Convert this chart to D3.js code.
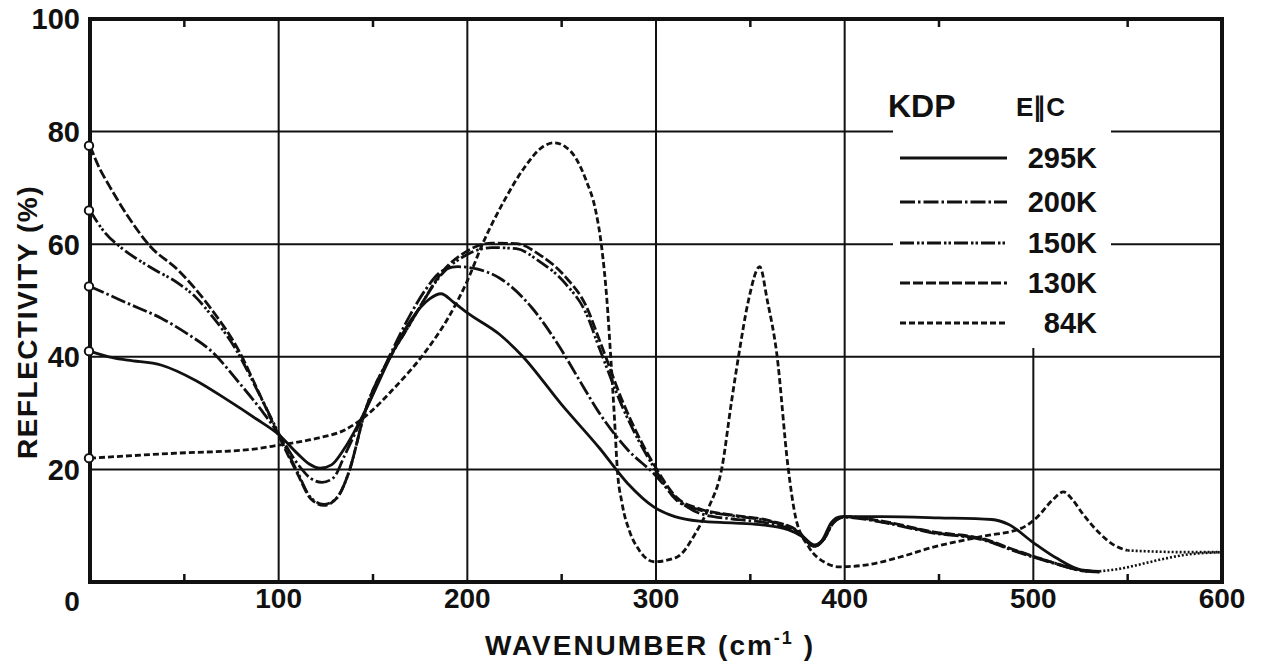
<!DOCTYPE html>
<html>
<head>
<meta charset="utf-8">
<script src="https://cdn.jsdelivr.net/npm/d3@7"></script>
<style>
  html, body { margin: 0; padding: 0; background: #fff; }
  svg { display: block; }
  text { font-family: "Liberation Sans", Arial, sans-serif; font-weight: bold; fill: #111; }
</style>
</head>
<body>
<svg id="chart" width="1265" height="665"></svg>
<script>
// ---------------- data (wavenumber cm^-1, reflectivity %) ----------------
const s295K = [[0,41],[10,40],[20,39.4],[38,38.5],[56,35.8],[73,32.3],[88,29],[100,26.2],[110,22.8],[116,21],[122,20.2],[128,20.8],[135,23.8],[146,30.5],[160,40.5],[170,46.5],[180,50.3],[186,51.2],[193,49.6],[200,47.8],[217,44],[229,40.2],[250,31.5],[270,23.8],[285,17.5],[299,13.3],[310,11.6],[323,10.8],[340,10.5],[355,10.2],[370,9.3],[378,8],[384,6.6],[388,7.4],[393,10.6],[398,11.6],[420,11.6],[450,11.4],[478,11.1],[487,10.2],[500,7],[512,4.3],[526,2.1],[535,1.9]];
const s200K = [[0,52.5],[10,51],[20,49.5],[38,46.8],[52,44],[64,41.1],[80,35],[92,30],[100,26.3],[110,21],[117,18.4],[123,17.7],[129,18.5],[135,22.5],[146,30.5],[160,41],[169,47],[178,52],[186,55.1],[195,56],[205,55.6],[217,54],[234,48.8],[249,41.7],[260,35.5],[270,30],[285,23.5],[299,19.2],[311,14.8],[323,12.2],[340,11.2],[360,10.4],[375,8.8],[384,6.4],[389,7.6],[394,10.5],[400,11.5],[420,10.6],[447,8.7],[473,7.5],[491,5.4],[509,3.5],[526,2],[535,1.8]];
const s150K = [[0,66],[8,62],[16.5,59.4],[32,55.9],[47,53],[56,50.6],[64,47.5],[77,41.5],[88,34.5],[100,26.4],[110,19.5],[117,15],[124,13.8],[131,15],[137,19.3],[146,30.5],[160,40.5],[169,45.5],[176,49.5],[186,54.5],[199,58],[213,59.4],[226,59.2],[238,57],[252,53],[263,47.7],[270,41.5],[283,30.5],[299,20.3],[311,14.5],[323,12.8],[340,11.8],[360,10.8],[375,9],[384,6.3],[389,7.6],[394,10.6],[400,11.6],[420,10.7],[447,8.8],[473,7.6],[491,5.5],[509,3.6],[526,2],[535,1.8]];
const s130K = [[0,77.5],[5,73.5],[10,70.5],[20,65],[32,59.6],[47,55.3],[64,48.6],[79,41],[89,34],[100,26],[110,19.2],[117,14.8],[124,13.6],[131,15],[137,19.3],[146,30.5],[160,40.5],[169,45.5],[176,49.5],[186,54.8],[199,58.6],[213,60.2],[226,60.1],[238,58.2],[252,54.2],[263,49],[270,43],[283,31.5],[299,20.8],[311,15],[323,13],[340,11.9],[360,10.9],[375,9.1],[384,6.3],[389,7.6],[394,10.6],[400,11.6],[420,10.8],[447,8.9],[473,7.7],[491,5.6],[509,3.6],[526,2.1],[535,1.8]];
const s84K = [[0,22],[47,22.9],[84,23.5],[100,24.3],[120,25.5],[135,27],[148,30],[160,34],[178,41],[190,47],[200,53.5],[208,60],[220,68],[230,73.5],[240,77.3],[246,78],[252,77.3],[258,75],[263,71.3],[268,66],[271,60],[274,50],[276,40],[278,29],[279.5,20],[282,14],[286,9],[291,5.7],[299,3.6],[311,4.4],[321,8.7],[328,13.3],[335,20.4],[340,32],[344,40.6],[349,50],[355,56],[359,50],[364,40.6],[370,20.4],[374,11.5],[381,6.2],[390,3.4],[397,2.7],[411,3],[429,4.4],[447,6.2],[473,8.1],[494,9.6],[502,11.5],[510,14.5],[516,16],[521,14.5],[526,12.2],[535,8.7],[543,6.5],[550,5.6]];
const tailHigh = [[535,1.9],[545,2.3],[555,3],[565,3.8],[580,4.8],[600,5.3]];
const tail84K = [[550,5.6],[565,5.4],[580,5.3],[600,5.3]];

const seriesNames = ["295K", "200K", "150K", "130K", "84K"];
const seriesData = [s295K, s200K, s150K, s130K, s84K];
const seriesDash = [null, "15,3,2.5,3", "14,3,2.5,2,2.5,3", "10,3", "6,3"];

const xTickValues = [100, 200, 300, 400, 500, 600];
const yTickValues = [20, 40, 60, 80, 100];
const xGridValues = [100, 200, 300, 400, 500];
const yGridValues = [20, 40, 60, 80];
const xMinorTicks = [50, 150, 250, 350, 450, 550];

// ---------------- layout ----------------
const svg = d3.select("#chart");
const x = d3.scaleLinear().domain([0, 600]).range([90, 1222]);
const y = d3.scaleLinear().domain([0, 100]).range([582, 19]);

svg.append("rect").attr("width", 1265).attr("height", 665).attr("fill", "#fff");

// grid
svg.append("g").selectAll("line").data(xGridValues).join("line")
  .attr("x1", d => x(d)).attr("x2", d => x(d))
  .attr("y1", y(100)).attr("y2", y(0))
  .attr("stroke", "#111").attr("stroke-width", 2);
svg.append("g").selectAll("line").data(yGridValues).join("line")
  .attr("x1", x(0)).attr("x2", x(600))
  .attr("y1", d => y(d)).attr("y2", d => y(d))
  .attr("stroke", "#111").attr("stroke-width", 2);

// legend background (breaks the grid)
svg.append("rect").attr("x", 893).attr("y", 21).attr("width", 218).attr("height", 327).attr("fill", "#fff");

// minor ticks on bottom and top
svg.append("g").selectAll("line").data(xMinorTicks).join("line")
  .attr("x1", d => x(d)).attr("x2", d => x(d))
  .attr("y1", y(0)).attr("y2", y(0) - 8)
  .attr("stroke", "#111").attr("stroke-width", 2.5);
svg.append("g").selectAll("line").data(xMinorTicks).join("line")
  .attr("x1", d => x(d)).attr("x2", d => x(d))
  .attr("y1", y(100)).attr("y2", y(100) + 8)
  .attr("stroke", "#111").attr("stroke-width", 2.5);

// curves
const line = d3.line().x(d => x(d[0])).y(d => y(d[1])).curve(d3.curveMonotoneX);
seriesData.forEach((data, i) => {
  svg.append("path").datum(data)
    .attr("d", line)
    .attr("fill", "none")
    .attr("stroke", "#111")
    .attr("stroke-width", 2.8)
    .attr("stroke-linejoin", "round")
    .attr("stroke-dasharray", seriesDash[i]);
});
[tailHigh, tail84K].forEach(t => {
  svg.append("path").datum(t)
    .attr("d", line)
    .attr("fill", "none")
    .attr("stroke", "#111")
    .attr("stroke-width", 2.6)
    .attr("stroke-dasharray", "2,2");
});

// frame
svg.append("rect")
  .attr("x", x(0)).attr("y", y(100))
  .attr("width", x(600) - x(0)).attr("height", y(0) - y(100))
  .attr("fill", "none").attr("stroke", "#111").attr("stroke-width", 4);

// open circles at the start of each curve
svg.append("g").selectAll("circle").data(seriesData).join("circle")
  .attr("cx", d => x(d[0][0]) - 1)
  .attr("cy", d => y(d[0][1]))
  .attr("r", 4.2)
  .attr("fill", "#fff").attr("stroke", "#111").attr("stroke-width", 2);

// tick labels
svg.append("g").selectAll("text").data(yTickValues).join("text")
  .attr("x", 80).attr("y", d => y(d)).attr("dy", "0.36em")
  .attr("text-anchor", "end").attr("font-size", 29)
  .text(d => d);
svg.append("g").selectAll("text").data(xTickValues).join("text")
  .attr("x", d => x(d)).attr("y", 608)
  .attr("text-anchor", "middle").attr("font-size", 28)
  .text(d => d);
svg.append("text").attr("x", 72).attr("y", 611)
  .attr("text-anchor", "middle").attr("font-size", 28).text("0");

// axis titles
svg.append("text")
  .attr("transform", "translate(37,322) rotate(-90)")
  .attr("text-anchor", "middle").attr("font-size", 28).attr("letter-spacing", 1.5)
  .text("REFLECTIVITY (%)");
const xt = svg.append("text").attr("x", 650).attr("y", 655)
  .attr("text-anchor", "middle").attr("font-size", 28).attr("letter-spacing", 2);
xt.append("tspan").text("WAVENUMBER (cm");
xt.append("tspan").attr("font-size", 18).attr("dy", -11).text("-1");
xt.append("tspan").attr("dy", 11).text(" )");

// legend
svg.append("text").attr("x", 888).attr("y", 117).attr("font-size", 32).text("KDP");
svg.append("text").attr("x", 1016).attr("y", 116).attr("font-size", 26).text("E\u2225C");
const legendY = [158, 202, 243, 283, 323];
seriesNames.forEach((name, i) => {
  svg.append("line")
    .attr("x1", 900).attr("x2", 1007)
    .attr("y1", legendY[i]).attr("y2", legendY[i])
    .attr("stroke", "#111").attr("stroke-width", 3)
    .attr("stroke-dasharray", seriesDash[i]);
  svg.append("text")
    .attr("x", 1097).attr("y", legendY[i]).attr("dy", "0.36em")
    .attr("text-anchor", "end").attr("font-size", 29)
    .text(name);
});
</script>
</body>
</html>
